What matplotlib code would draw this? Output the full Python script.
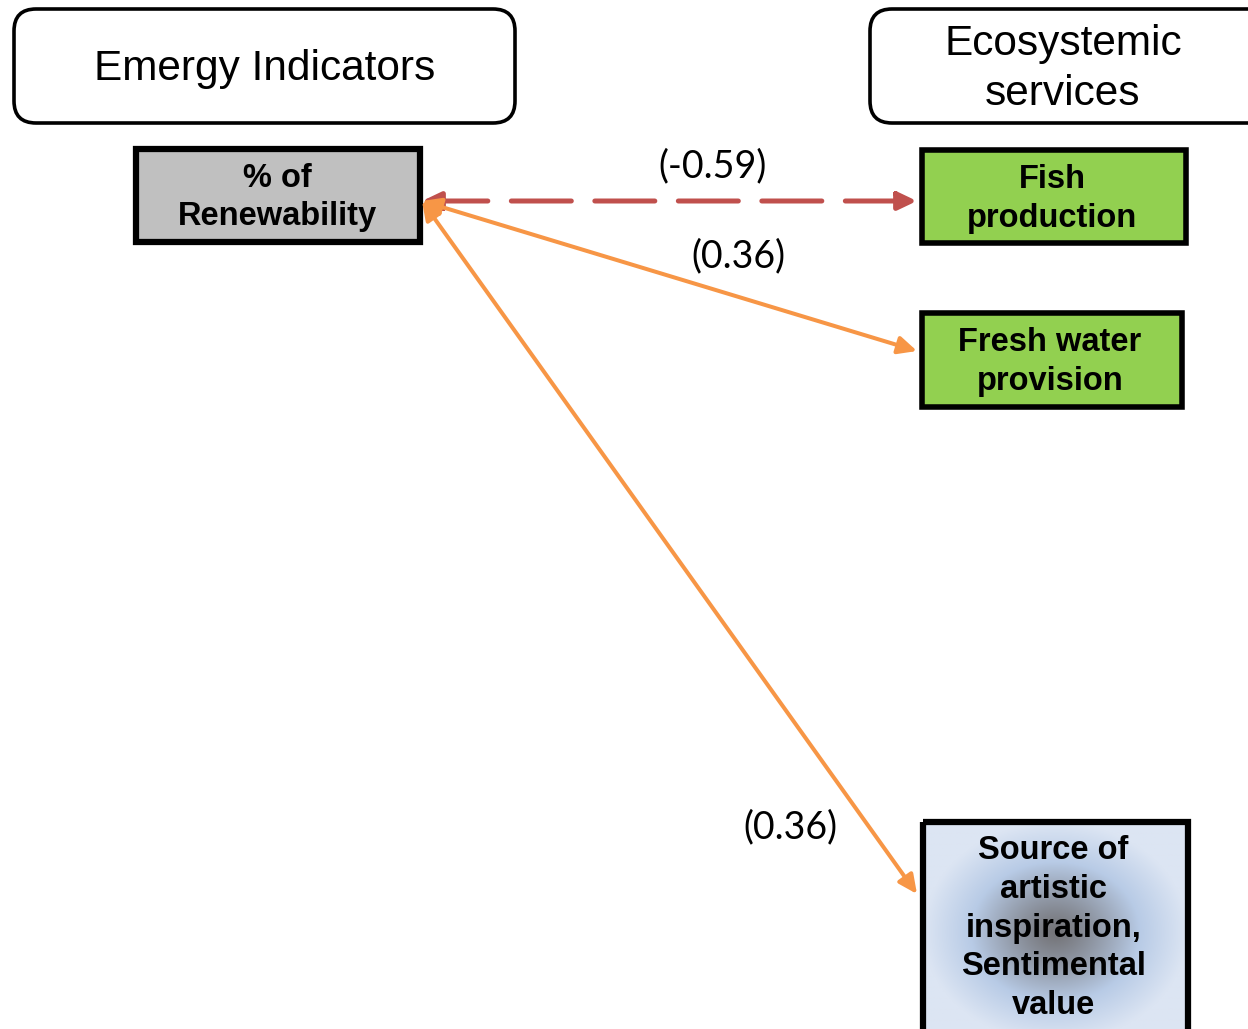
import numpy as np
import matplotlib
matplotlib.use("Agg")
import matplotlib.pyplot as plt
from matplotlib.patches import FancyBboxPatch, Rectangle

# ---- data ----
headers = ["Emergy Indicators", "Ecosystemic\nservices"]
indicator = "% of\nRenewability"
services = ["Fish\nproduction", "Fresh water\nprovision",
            "Source of\nartistic\ninspiration,\nSentimental\nvalue"]
correlations = [-0.59, 0.36, 0.36]

# ---- layout (pixel space) ----
W, H = 1248, 1029
fig = plt.figure(figsize=(W / 100, H / 100), dpi=100)
ax = fig.add_axes([0, 0, 1, 1])
ax.set_xlim(0, W)
ax.set_ylim(H, 0)
ax.axis("off")

header_boxes = [(14, 9, 501, 114), (870, 9, 400, 114)]
header_centers = [(265, 69), (1063, 69)]
for (x, y, w, h), (cx, cy), t in zip(header_boxes, header_centers, headers):
    ax.add_patch(FancyBboxPatch((x, y), w, h, boxstyle="round,pad=0,rounding_size=22",
                                fc="white", ec="black", lw=2.6, zorder=2))
    ax.text(cx, cy, t, ha="center", va="center", fontsize=30.5,
            family="Liberation Sans", linespacing=1.34, zorder=3)

# indicator box
ix, iy, iw, ih = 136, 149, 284, 93
ax.add_patch(Rectangle((ix, iy), iw, ih, fc="#C0C0C0", ec="black", lw=4.5, zorder=2))
ax.text(ix + iw / 2 - 1, iy + ih / 2 + 2, indicator, ha="center", va="center",
        fontsize=23.5, fontweight="bold", family="Liberation Sans",
        linespacing=1.33, zorder=3)

# service boxes
svc_boxes = [(922, 150, 264, 93), (922, 313, 260, 94), (923, 822, 265, 220)]
svc_text_y = [199, 362, 928]
svc_fc = ["#92D050", "#92D050", None]
for (x, y, w, h), t, fc, ty in zip(svc_boxes, services, svc_fc, svc_text_y):
    if fc is None:
        nx, ny = 240, 240
        gx = np.linspace(-1, 1, nx)
        gy = np.linspace(-1, 1, ny)
        X, Y = np.meshgrid(gx, gy)
        r = np.clip(np.sqrt(X ** 2 + Y ** 2), 0, 1.0)
        c_center = np.array([0x74, 0x74, 0x78]) / 255
        c_mid = np.array([0xB8, 0xCB, 0xE6]) / 255
        c_edge = np.array([0xDC, 0xE5, 0xF3]) / 255
        a = np.clip(r / 0.64, 0, 1)[..., None]
        b = np.clip((r - 0.64) / 0.36, 0, 1)[..., None]
        inner = c_center * (1 - a ** 1.2) + c_mid * a ** 1.2
        outer = c_mid * (1 - b) + c_edge * b
        img = np.where(r[..., None] < 0.64, inner, outer)
        ax.imshow(img, extent=(x, x + w, y + h, y), zorder=1, aspect="auto",
                  interpolation="bilinear")
        ax.add_patch(Rectangle((x, y), w, h, fc="none", ec="black", lw=4.5, zorder=2))
        ax.set_xlim(0, W)
        ax.set_ylim(H, 0)
    else:
        ax.add_patch(Rectangle((x, y), w, h, fc=fc, ec="black", lw=4.0, zorder=2))
    ax.text(x + w / 2 - 2, ty, t, ha="center", va="center", fontsize=23.5,
            fontweight="bold", family="Liberation Sans", linespacing=1.33, zorder=3)

# arrows
start = (422, 201)
ends = [(917, 201), (917, 351), (917, 894)]
colors = ["#C0504D", "#F79646", "#F79646"]
widths = [3.6, 2.9, 2.9]
styles = [(0, (12.0, 4.7)), "solid", "solid"]
label_pos = [(713, 166), (738, 256), (790, 827)]
for end, c, lw, ls, v, lp in zip(ends, colors, widths, styles, correlations, label_pos):
    ax.annotate("", xy=end, xytext=start,
                arrowprops=dict(arrowstyle="<|-|>,head_length=0.8,head_width=0.38",
                                color=c, lw=lw, linestyle=ls, shrinkA=0, shrinkB=0,
                                mutation_scale=14), zorder=4)
    ax.text(lp[0], lp[1], f"({v:.2f})", ha="center", va="center", fontsize=27,
            family="Lato", zorder=5)

fig.savefig("out.png", dpi=100)
